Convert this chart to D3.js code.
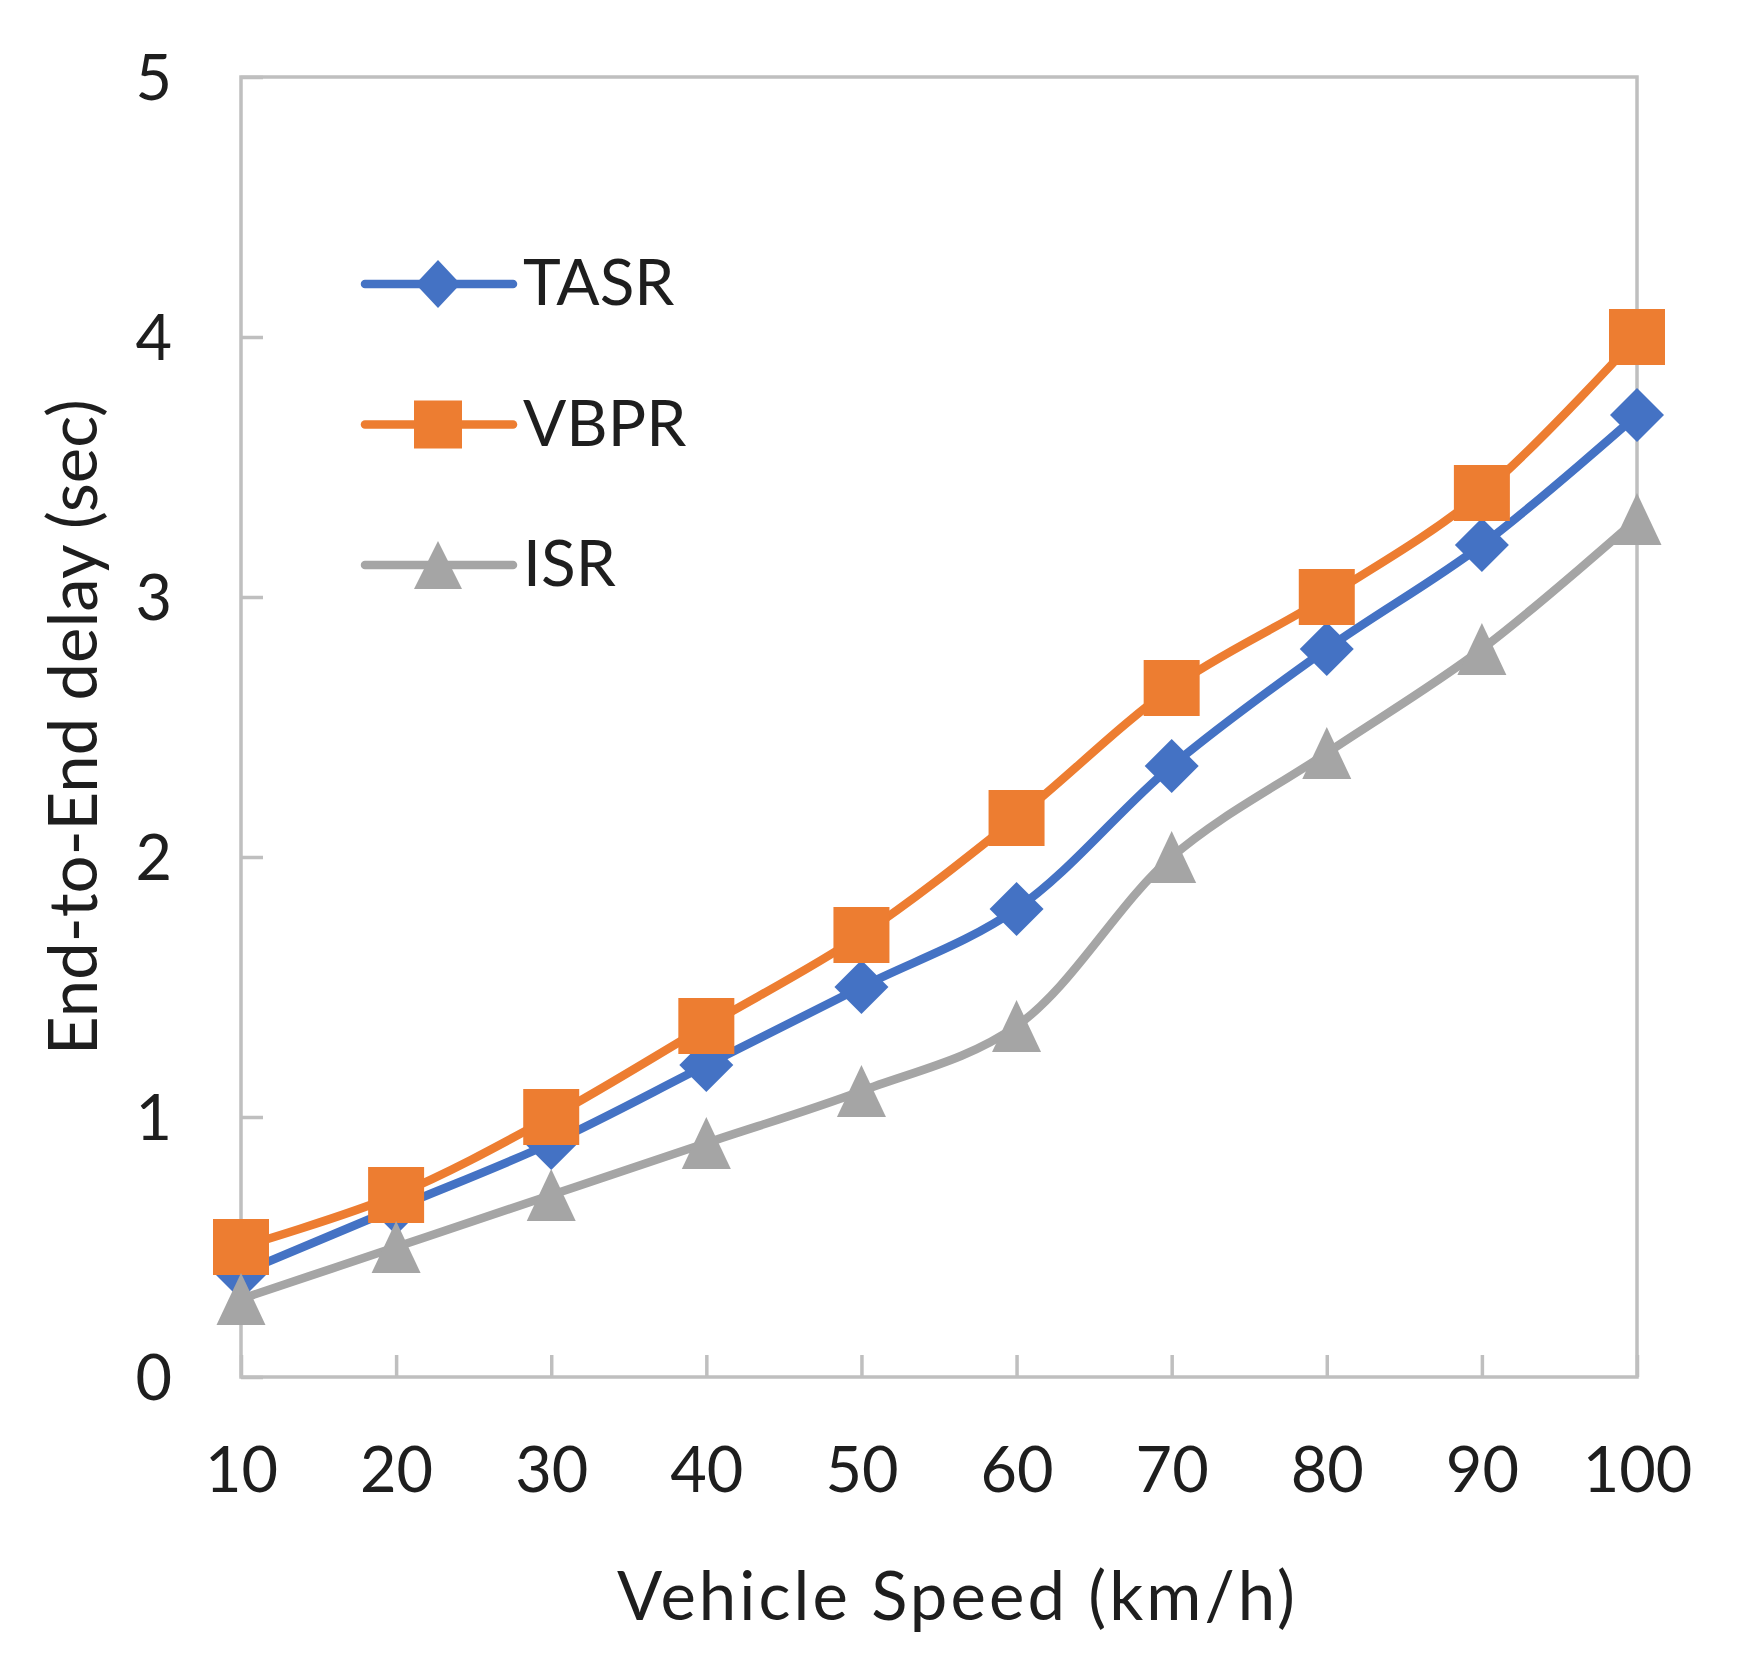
<!DOCTYPE html>
<html>
<head>
<meta charset="utf-8">
<script src="https://cdn.jsdelivr.net/npm/d3@7"></script>
<style>
   body { margin: 0; background: #fff; }
   text { font-family: Lato, 'Open Sans', sans-serif; fill: #1e1e1e; }
</style>
</head>
<body>
<script>

// CHART VALUES
var speeds = [10, 20, 30, 40, 50, 60, 70, 80, 90, 100];
var tasr = [0.4, 0.65, 0.9, 1.2, 1.5, 1.8, 2.35, 2.8, 3.2, 3.7];
var vbpr = [0.5, 0.7, 1.0, 1.35, 1.7, 2.15, 2.65, 3.0, 3.4, 4.0];
var isr = [0.3, 0.5, 0.7, 0.9, 1.1, 1.35, 2.0, 2.4, 2.8, 3.3];
var yTicks = [0, 1, 2, 3, 4, 5];
var seriesNames = ['TASR', 'VBPR', 'ISR'];
var xTitle = 'Vehicle Speed (km/h)';
var yTitle = 'End-to-End delay (sec)';

// MARKER SHAPES, DRAWN FROM HALF WIDTH (w) AND HALF HEIGHT (h)
var shapes = {
   diamond: (w, h) => 'M0,' + (-h) + 'L' + w + ',0L0,' + h + 'L' + (-w) + ',0Z',
   square: (w, h) => 'M' + (-w) + ',' + (-h) + 'H' + w + 'V' + h + 'H' + (-w) + 'Z',
   triangle: (w, h) => 'M0,' + (-h) + 'L' + w + ',' + h + 'H' + (-w) + 'Z'
}

// SETTINGS OBJECT
var settings = {
   width: 1740,
   height: 1672,
   plot: { left: 241, right: 1637, top: 77, bottom: 1377 },
   colors: ['#4472C4', '#ED7D31', '#A5A5A5'],
   shapes: ['diamond', 'square', 'triangle'],
   marker: [[27, 27], [28, 28], [24.5, 26]],
   legendMarker: [[22.5, 24], [24, 24], [24, 24]],
   frame: '#bfbfbf',
   lineWidth: 8.5,
   font: 63
}

var series = seriesNames.map((name, i) => {
   return {
      name: name,
      values: [tasr, vbpr, isr][i],
      color: settings.colors[i],
      shape: shapes[settings.shapes[i]],
      m: settings.marker[i],
      lm: settings.legendMarker[i]
   };
});

// SCALES
var xScale = d3.scaleLinear()
   .domain([d3.min(speeds), d3.max(speeds)])
   .range([settings.plot.left, settings.plot.right])

var yScale = d3.scaleLinear()
   .domain([0, d3.max(yTicks)])
   .range([settings.plot.bottom, settings.plot.top])

// GENERATE CANVAS
var canvas = d3.select('body').append('svg')
   .attr('width', settings.width)
   .attr('height', settings.height)

// X AXIS
var xAxis = canvas.append('g')
   .attr('transform', 'translate(0,' + settings.plot.bottom + ')')
   .call(d3.axisBottom(xScale).tickValues(speeds).tickSizeInner(-22).tickSizeOuter(0))
   .attr('font-family', null)

xAxis.select('.domain').remove();
xAxis.selectAll('line').attr('stroke', settings.frame).attr('stroke-width', 3.5);
xAxis.selectAll('text')
   .attr('y', 115)
   .attr('dy', null)
   .attr('font-size', settings.font)
   .attr('fill', null)

// Y AXIS
var yAxis = canvas.append('g')
   .attr('transform', 'translate(' + settings.plot.left + ',0)')
   .call(d3.axisLeft(yScale).tickValues(yTicks).tickFormat(d3.format('d')).tickSizeInner(-22).tickSizeOuter(0))
   .attr('font-family', null)

yAxis.select('.domain').remove();
yAxis.selectAll('line').attr('stroke', settings.frame).attr('stroke-width', 3.5);
yAxis.selectAll('text')
   .attr('x', -69)
   .attr('dy', '0.36em')
   .attr('font-size', settings.font)
   .attr('fill', null)

// PLOT FRAME
canvas.append('rect')
   .attr('x', settings.plot.left)
   .attr('y', settings.plot.top)
   .attr('width', settings.plot.right - settings.plot.left)
   .attr('height', settings.plot.bottom - settings.plot.top)
   .attr('fill', 'none')
   .attr('stroke', settings.frame)
   .attr('stroke-width', 3.5)

// AXIS TITLES
canvas.append('text')
   .attr('x', 956)
   .attr('y', 1620)
   .attr('text-anchor', 'middle')
   .attr('font-size', 67)
   .attr('textLength', 678)
   .attr('lengthAdjust', 'spacing')
   .text(xTitle)

canvas.append('text')
   .attr('transform', 'translate(97,' + (settings.plot.top + settings.plot.bottom) / 2 + ') rotate(-90)')
   .attr('text-anchor', 'middle')
   .attr('font-size', 67)
   .attr('textLength', 656)
   .attr('lengthAdjust', 'spacing')
   .text(yTitle)

// SMOOTHED LINE GENERATOR
var pathify = d3.line()
   .x((d, i) => { return xScale(speeds[i]) })
   .y((d) => { return yScale(d) })
   .curve(d3.curveCatmullRom.alpha(0.5))

// DRAW EACH SERIES, LINE THEN MARKERS
series.forEach((s) => {
   var g = canvas.append('g');
   g.append('path')
      .attr('d', pathify(s.values))
      .attr('fill', 'none')
      .attr('stroke', s.color)
      .attr('stroke-width', settings.lineWidth)
      .attr('stroke-linejoin', 'round')
      .attr('stroke-linecap', 'round')

   g.selectAll('.pt').data(s.values).enter()
      .append('path')
      .attr('d', s.shape(s.m[0], s.m[1]))
      .attr('transform', (d, i) => { return 'translate(' + xScale(speeds[i]) + ',' + yScale(d) + ')' })
      .attr('fill', s.color)
});

// LEGEND
var legend = canvas.append('g')
   .attr('transform', 'translate(365,284)')

series.forEach((s, i) => {
   var row = legend.append('g').attr('transform', 'translate(0,' + (i * 140.5) + ')');
   row.append('line')
      .attr('x1', 0).attr('x2', 148)
      .attr('stroke', s.color)
      .attr('stroke-width', settings.lineWidth)
      .attr('stroke-linecap', 'round')
   row.append('path')
      .attr('d', s.shape(s.lm[0], s.lm[1]))
      .attr('transform', 'translate(73,0)')
      .attr('fill', s.color)
   row.append('text')
      .attr('x', 158)
      .attr('y', 21)
      .attr('font-size', settings.font + 1)
      .text(s.name)
});

</script>
</body>
</html>
